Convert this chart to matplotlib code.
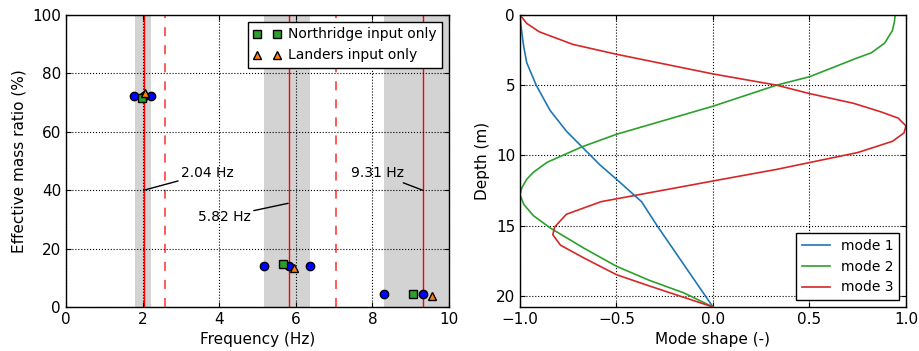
import numpy as np
import matplotlib.pyplot as plt

# natural frequencies (Hz) and bands
f_modes = [2.04, 5.82, 9.31]
f_dashed = [2.59, 7.05]
bands = [(1.80, 2.23), (5.18, 6.38), (8.31, 10.0)]

# effective mass ratio points
circ_f = [1.77, 2.04, 2.21, 5.18, 5.82, 6.38, 8.31, 9.31]
circ_m = [72.4, 72.4, 72.4, 14.0, 14.0, 14.0, 4.3, 4.3]
north_f = [1.98, 5.67, 9.06]
north_m = [71.5, 14.6, 4.5]
land_f = [2.07, 5.95, 9.55]
land_m = [73.4, 13.3, 3.9]

# mode shapes vs depth
depth1 = [0, 0.5, 1.3, 2.3, 3.4, 5.0, 6.8, 8.3, 9.5, 10.7, 11.7, 13.3, 15, 17, 19, 20.8]
mode1 = [-1.0, -0.997, -0.99, -0.98, -0.965, -0.916, -0.844, -0.758, -0.671,
         -0.584, -0.50, -0.37, -0.29, -0.19, -0.09, 0.0]
depth2 = [0, 0.5, 1.1, 2.0, 2.7, 3.1, 3.7, 4.4, 5.0, 6.5, 8.5, 9.4, 10.5, 11.2,
          11.7, 12.3, 12.8, 13.5, 14.3, 15.2, 16.6, 17.9, 18.9, 19.8, 20.8]
mode2 = [0.944, 0.94, 0.93, 0.89, 0.82, 0.74, 0.63, 0.50, 0.33, 0.0, -0.50, -0.68,
         -0.86, -0.93, -0.965, -0.99, -1.0, -0.98, -0.93, -0.84, -0.67, -0.50,
         -0.33, -0.15, 0.0]
depth3 = [0, 0.6, 1.2, 2.1, 2.8, 4.2, 5.0, 5.6, 6.3, 6.9, 7.35, 7.9, 8.4, 9.0, 9.8,
          11.0, 11.7, 13.3, 14.2, 15.1, 15.65, 16.4, 17.3, 18.5, 19.3, 20.8]
mode3 = [-1.0, -0.965, -0.90, -0.725, -0.50, 0.0, 0.33, 0.50, 0.73, 0.87, 0.96, 1.0,
         0.99, 0.93, 0.75, 0.33, 0.05, -0.58, -0.76, -0.82, -0.83, -0.79, -0.67,
         -0.50, -0.33, 0.0]

plt.rcParams['font.size'] = 11
plt.rcParams['xtick.direction'] = 'in'
plt.rcParams['ytick.direction'] = 'in'
plt.rcParams['xtick.top'] = True
plt.rcParams['ytick.right'] = True

fig = plt.figure(figsize=(9.19, 3.51), dpi=100)
ax1 = fig.add_axes([0.0718, 0.1254, 0.4167, 0.832])
ax2 = fig.add_axes([0.5658, 0.1254, 0.42, 0.832])

for lo, hi in bands:
    ax1.axvspan(lo, hi, color='lightgray', lw=0, zorder=0)
for f in f_modes:
    ax1.axvline(f, color='r', lw=1, zorder=1)
for f in f_dashed:
    ax1.axvline(f, color='#ff4d4d', lw=1.3, ls='--', dashes=(5, 5), zorder=1)

ax1.plot(circ_f, circ_m, 'o', color='b', mec='k', ms=6, zorder=3)
ax1.plot(north_f, north_m, 's', color='#2ca02c', mec='k', ms=6, zorder=4,
         label='Northridge input only')
ax1.plot(land_f, land_m, '^', color='#ff7f0e', mec='k', ms=6, zorder=5,
         label='Landers input only')

arrow = dict(arrowstyle='-', color='k', lw=1, shrinkA=0, shrinkB=0)
ax1.annotate('2.04 Hz', xy=(2.04, 40), xytext=(3.0, 44.5), arrowprops=arrow, fontsize=10)
ax1.annotate('5.82 Hz', xy=(5.80, 35.5), xytext=(3.45, 29.5), arrowprops=arrow, fontsize=10)
ax1.annotate('9.31 Hz', xy=(9.31, 40), xytext=(7.45, 44.5), arrowprops=arrow, fontsize=10)

ax1.set_xlim(0, 10)
ax1.set_ylim(0, 100)
ax1.grid(True, color='k', ls=':', lw=0.8)
ax1.set_axisbelow(False)
ax1.set_xlabel('Frequency (Hz)')
ax1.set_ylabel('Effective mass ratio (%)')
leg = ax1.legend(loc='upper right', numpoints=2, fancybox=False, framealpha=1,
                 edgecolor='k', borderaxespad=0.5, handletextpad=0.5, fontsize=10)
leg.get_frame().set_linewidth(1)

ax2.plot(mode1, depth1, color='#1f77b4', lw=1.2, label='mode 1')
ax2.plot(mode2, depth2, color='#2ca02c', lw=1.2, label='mode 2')
ax2.plot(mode3, depth3, color='#d62728', lw=1.2, label='mode 3')
ax2.set_xlim(-1, 1)
ax2.set_ylim(20.8, 0)
ax2.set_xticks([-1.0, -0.5, 0.0, 0.5, 1.0])
ax2.set_yticks([0, 5, 10, 15, 20])
ax2.grid(True, color='k', ls=':', lw=0.8)
ax2.set_xlabel('Mode shape (-)')
ax2.set_ylabel('Depth (m)')
leg2 = ax2.legend(loc='lower right', fancybox=False, framealpha=1, edgecolor='k',
                  borderaxespad=0.5, fontsize=10)
leg2.get_frame().set_linewidth(1)

for ax in (ax1, ax2):
    for s in ax.spines.values():
        s.set_linewidth(1)

fig.savefig('out.png', dpi=100)
